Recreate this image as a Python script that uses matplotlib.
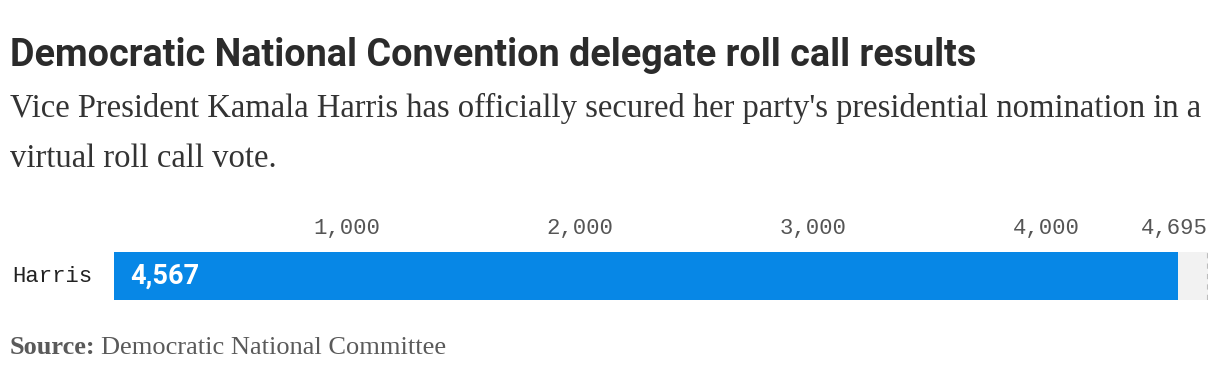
import matplotlib
matplotlib.use("Agg")
import matplotlib.pyplot as plt

# Data
candidates = ["Harris"]
delegates = [4567]
total_delegates = 4695
tick_values = [1000, 2000, 3000, 4000, 4695]
tick_labels = ["1,000", "2,000", "3,000", "4,000", "4,695"]

W, H = 1220, 378
fig = plt.figure(figsize=(W / 100, H / 100), dpi=100)
fig.patch.set_facecolor("white")

def fy(px):
    return 1 - px / H

# Title and subtitle
fig.text(10 / W, fy(66), "Democratic National Convention delegate roll call results",
         fontfamily="Roboto", fontweight="bold", fontsize=27.2, color="#2b2b2b",
         va="baseline", ha="left")
fig.text(10 / W, fy(117),
         "Vice President Kamala Harris has officially secured her party's presidential nomination in a",
         fontfamily="Liberation Serif", fontsize=23.5, color="#333333", va="baseline", ha="left")
fig.text(10 / W, fy(167), "virtual roll call vote.",
         fontfamily="Liberation Serif", fontsize=23.5, color="#333333", va="baseline", ha="left")

# Source
src = fig.text(10 / W, fy(354), "Source:", fontfamily="Liberation Serif", fontweight="bold",
               fontsize=19, color="#5a5a5a", va="baseline", ha="left")
fig.canvas.draw()
bb = src.get_window_extent()
fig.text((bb.x1 + 5) / W, fy(354), "Democratic National Committee",
         fontfamily="Liberation Serif", fontsize=19, color="#5a5a5a", va="baseline", ha="left")

# Bar axes
ax_w = 1208 - 114
ax = fig.add_axes([114 / W, fy(300), ax_w / W, (300 - 252) / H])
ax.barh([0], [total_delegates], height=1.0, color="#f2f2f2", zorder=1)
ax.barh(range(len(candidates)), delegates, height=1.0, color="#0787e6", zorder=2)
ax.axvline(total_delegates, color="#bdbdbd", linestyle=(0, (2.5, 2.5)), linewidth=1.5, zorder=3)
ax.set_xlim(0, total_delegates)
ax.set_ylim(-0.5, 0.5)
for s in ax.spines.values():
    s.set_visible(False)

ax.xaxis.tick_top()
ax.set_xticks(tick_values)
ax.set_xticklabels(tick_labels, fontfamily="Liberation Mono", fontsize=16, color="#555555")
ax.tick_params(axis="x", length=0, pad=9)
labs = ax.get_xticklabels()
labs[-1].set_horizontalalignment("right")

ax.set_yticks([])
for i, name in enumerate(candidates):
    ax.text(-102 / ax_w, i, name, transform=ax.get_yaxis_transform(),
            fontfamily="Liberation Mono", fontsize=16, color="#222222",
            va="center", ha="left")

for i, v in enumerate(delegates):
    ax.text(16 / ax_w * total_delegates, i, f"{v:,}", fontfamily="Roboto",
            fontweight="bold", fontsize=19.5, color="white", va="center", ha="left", zorder=4)

fig.savefig("out.png", dpi=100, facecolor="white")
